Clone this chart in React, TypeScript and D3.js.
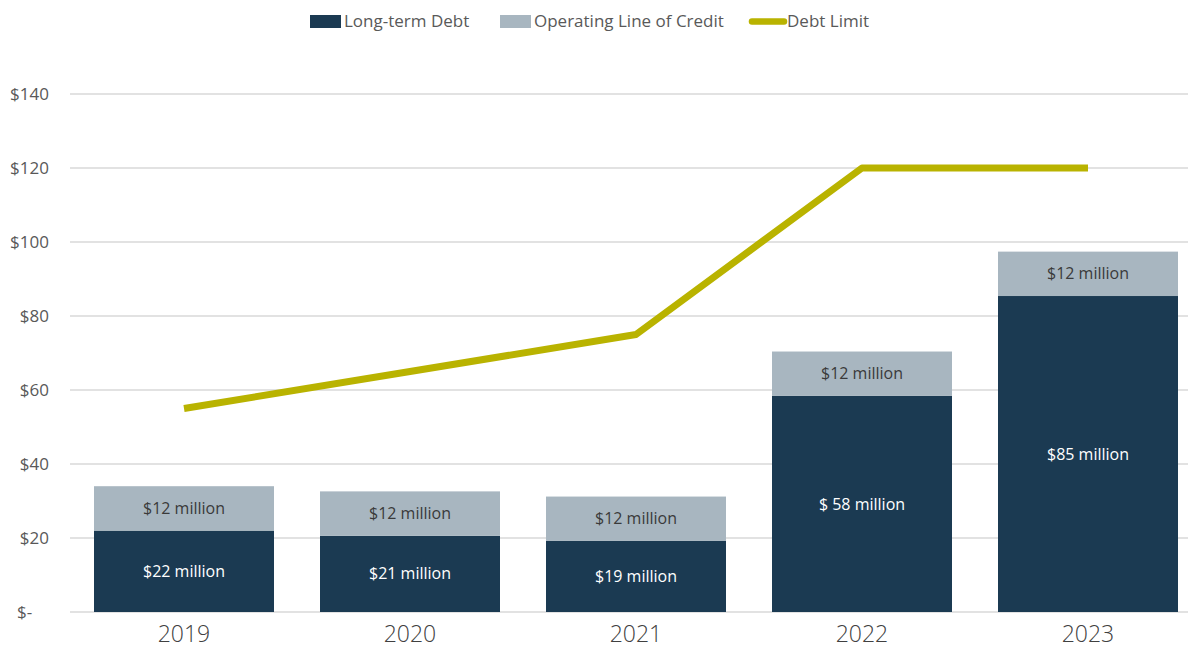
import React from "react";
import * as d3 from "d3";

const years = ["2019", "2020", "2021", "2022", "2023"];
const longTermDebt = [22, 20.6, 19.2, 58.4, 85.4];
const operatingLine = [12, 12, 12, 12, 12];
const debtLimit = [55, 65, 75, 120, 120];
const longTermLabels = ["$22 million", "$21 million", "$19 million", "$ 58 million", "$85 million"];
const operatingLabels = ["$12 million", "$12 million", "$12 million", "$12 million", "$12 million"];
const yTicks = [0, 20, 40, 60, 80, 100, 120, 140];

const W = 1188;
const H = 654;
const FONT = "'Open Sans', 'Noto Sans', sans-serif";
const DARK = "#1b3a52";
const LIGHT = "#a8b6c0";
const OLIVE = "#b9b300";

export default function App() {
  const x = d3.scaleBand<string>().domain(years).range([71, 1201]).paddingInner(46 / 226).paddingOuter(23 / 226);
  const y = d3.scaleLinear().domain([0, 140]).range([612, 94]);
  const line = d3
    .line<number>()
    .x((_, i) => (x(years[i]) as number) + x.bandwidth() / 2)
    .y((d) => y(d));

  const fmt = (v: number) => (v === 0 ? "$-" : `$${v}`);

  return (
    <div style={{ position: "fixed", left: 0, top: 0 }}>
      <svg width={W} height={H} style={{ display: "block", background: "#fff" }} fontFamily={FONT}>
        {yTicks.map((t) => (
          <g key={t}>
            <line x1={70} x2={W} y1={y(t)} y2={y(t)} stroke="#d9d9d9" strokeWidth={1.5} />
            <text
              x={t === 0 ? 17 : 49}
              y={y(t)}
              dy="0.35em"
              textAnchor={t === 0 ? "start" : "end"}
              fontSize={17}
              fill="#595959"
            >
              {fmt(t)}
            </text>
          </g>
        ))}
        {years.map((yr, i) => {
          const bx = x(yr) as number;
          const bw = x.bandwidth();
          const y0 = y(0);
          const y1 = y(longTermDebt[i]);
          const y2 = y(longTermDebt[i] + operatingLine[i]);
          return (
            <g key={yr}>
              <rect x={bx} y={y1} width={bw} height={y0 - y1} fill={DARK} />
              <rect x={bx} y={y2} width={bw} height={y1 - y2} fill={LIGHT} />
              <text x={bx + bw / 2} y={(y0 + y1) / 2} dy="0.35em" textAnchor="middle" fontSize={16} fill="#ffffff">
                {longTermLabels[i]}
              </text>
              <text x={bx + bw / 2} y={(y1 + y2) / 2} dy="0.35em" textAnchor="middle" fontSize={16} fill="#3a3a3a">
                {operatingLabels[i]}
              </text>
              <text x={bx + bw / 2} y={642} textAnchor="middle" fontSize={23} fontWeight={300} fill="#404040">
                {yr}
              </text>
            </g>
          );
        })}
        <path d={line(debtLimit) || ""} fill="none" stroke={OLIVE} strokeWidth={7} strokeLinejoin="round" />
        <g fontSize={17} fill="#595959">
          <rect x={310} y={15} width={31} height={13} fill={DARK} />
          <text x={344} y={21.5} dy="0.35em" fill="#595959">Long-term Debt</text>
          <rect x={500} y={15} width={31} height={13} fill={LIGHT} />
          <text x={534} y={21.5} dy="0.35em" fill="#595959">Operating Line of Credit</text>
          <line x1={752} x2={784} y1={21.5} y2={21.5} stroke={OLIVE} strokeWidth={6.5} strokeLinecap="round" />
          <text x={787} y={21.5} dy="0.35em" fill="#595959">Debt Limit</text>
        </g>
      </svg>
    </div>
  );
}
